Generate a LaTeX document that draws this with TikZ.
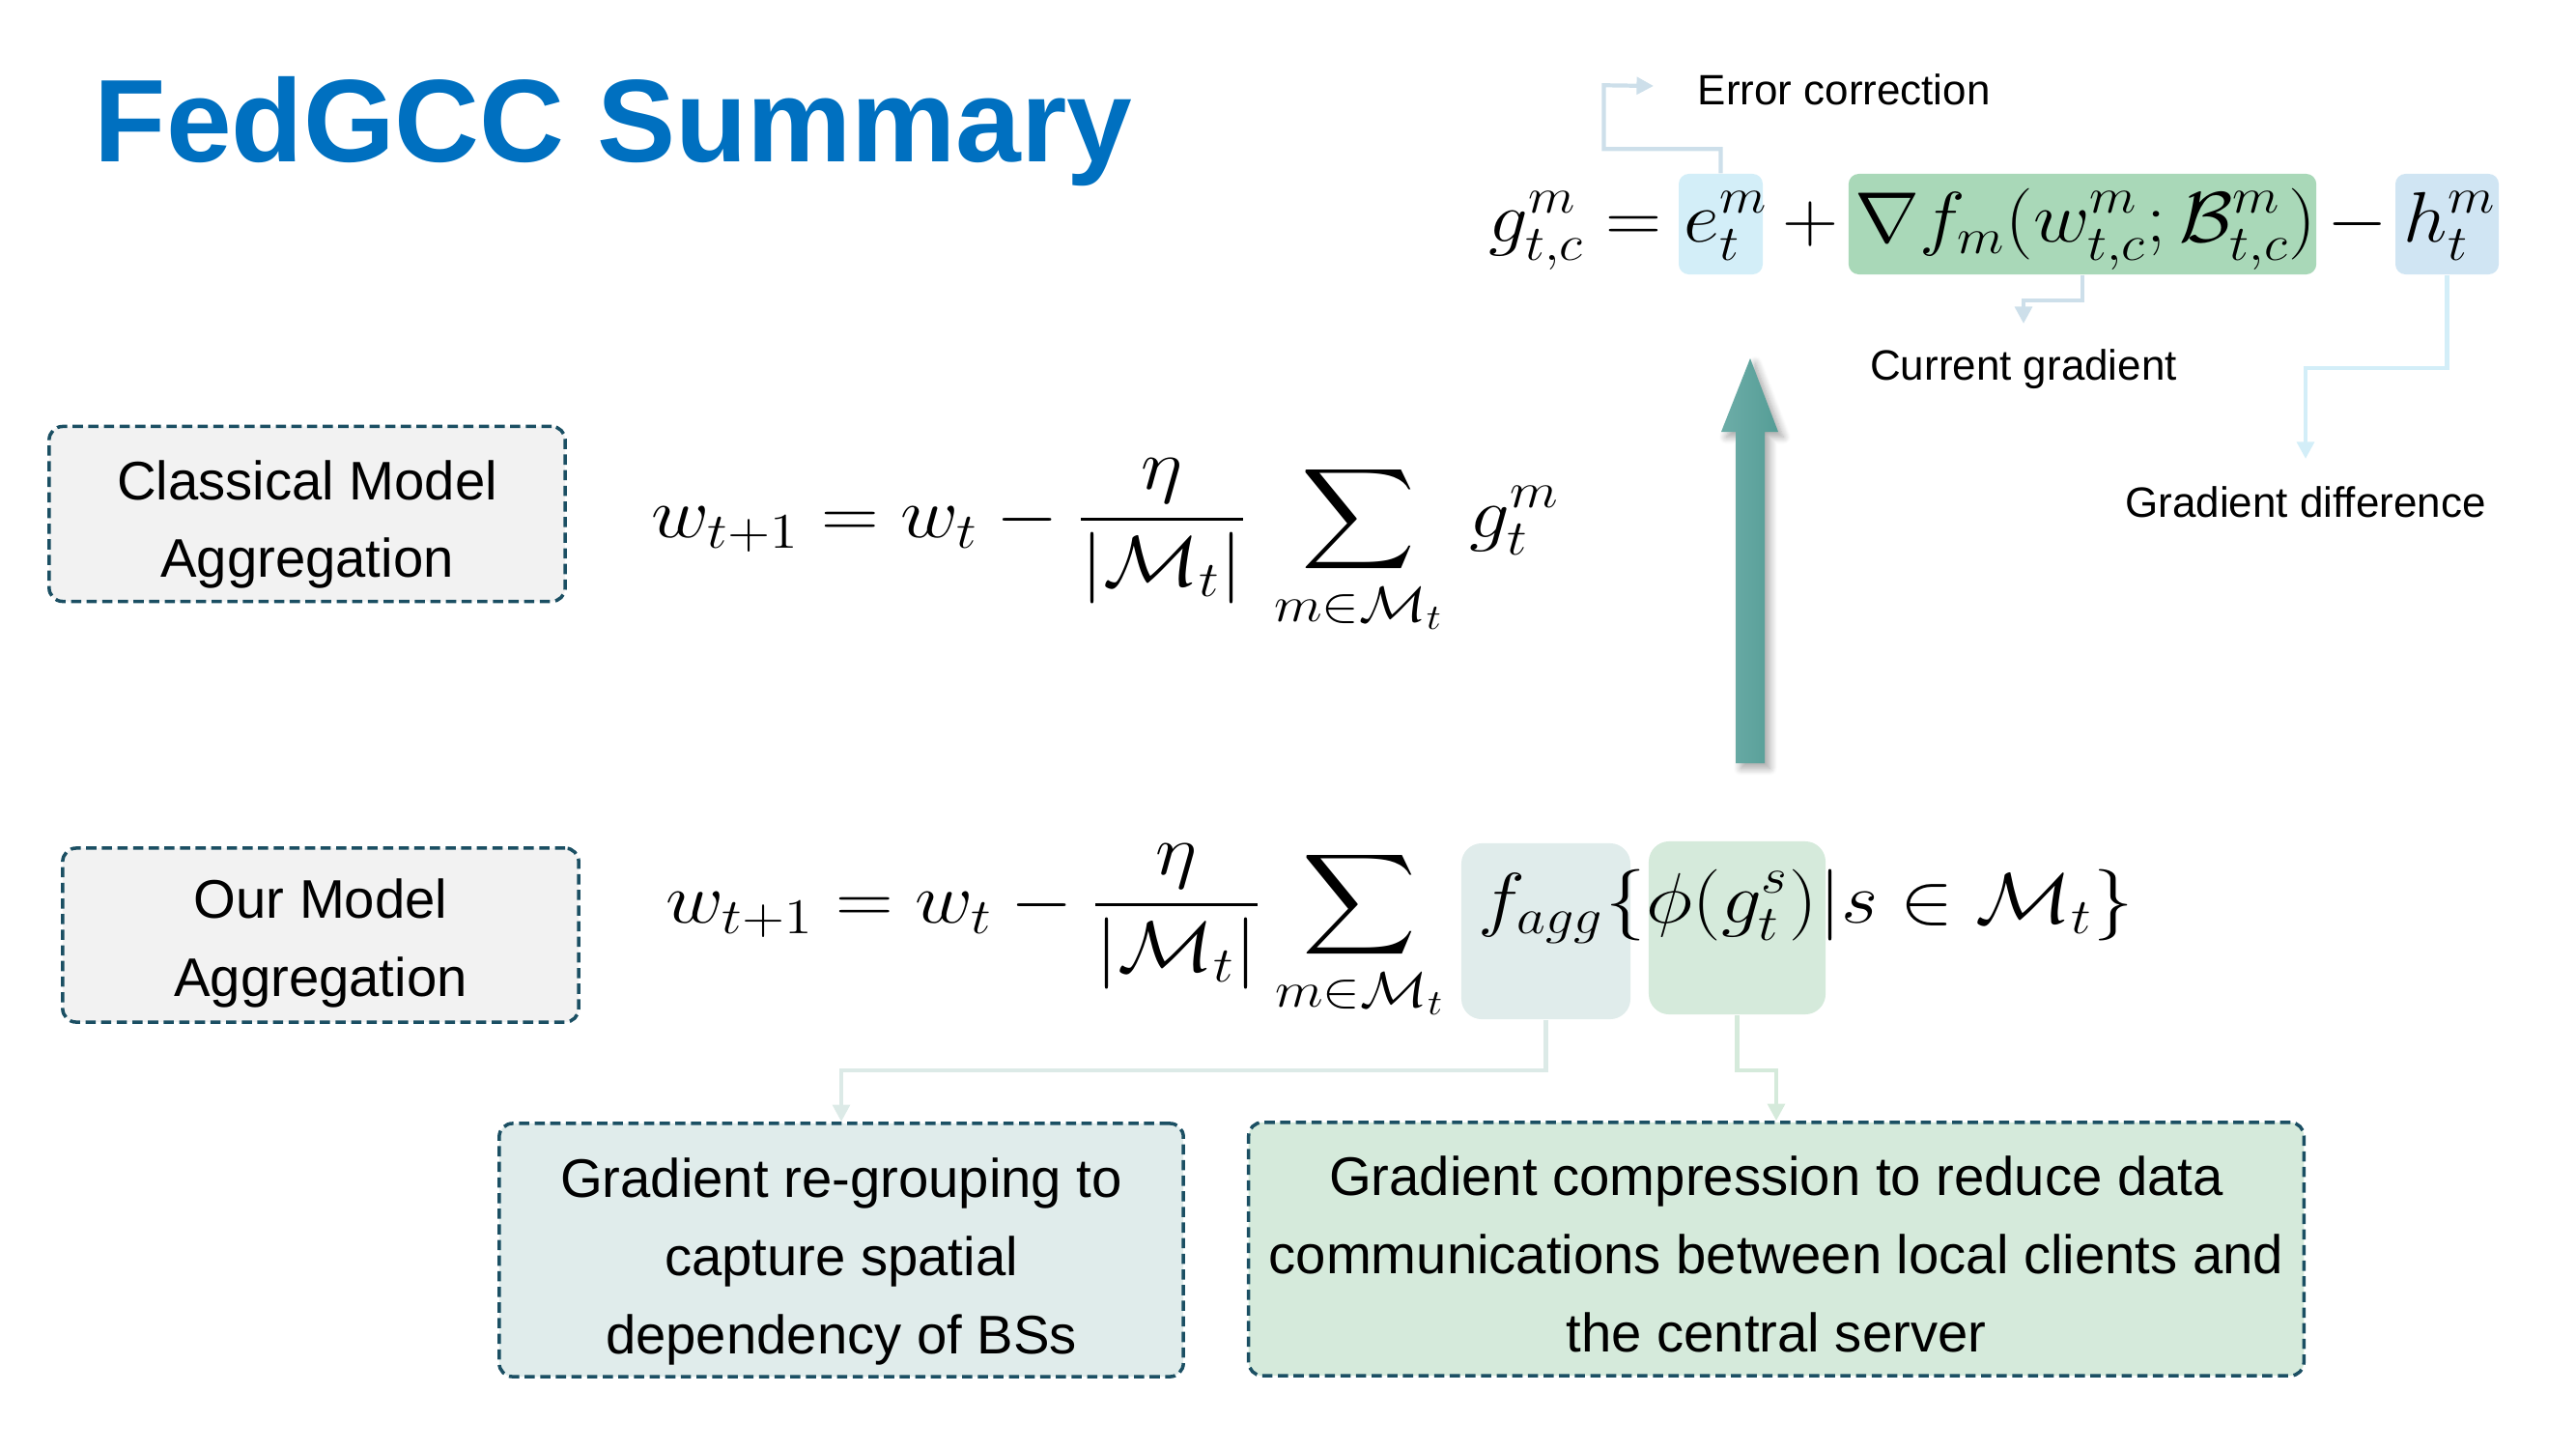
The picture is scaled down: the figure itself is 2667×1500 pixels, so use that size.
\RequirePackage{fix-cm}
\documentclass[tikz,border=0pt]{standalone}
\usepackage{exscale}
\usepackage[no-math]{fontspec}
\setmainfont{Liberation Sans}
\usetikzlibrary{arrows.meta,shadows.blur}

\definecolor{titleblue}{HTML}{0070C0}
\definecolor{boxedge}{HTML}{1B4F63}
\definecolor{boxgray}{HTML}{F2F2F2}
\definecolor{regroupfill}{HTML}{E0ECEB}
\definecolor{compressfill}{HTML}{D5EADB}
\definecolor{errfill}{HTML}{D3EEF8}
\definecolor{gradfill}{HTML}{A9D8B8}
\definecolor{difffill}{HTML}{D0E5F3}
\definecolor{errline}{HTML}{CDDFEA}
\definecolor{diffline}{HTML}{D3EEF8}
\definecolor{regroupline}{HTML}{DCEAE7}
\definecolor{compressline}{HTML}{D5EADB}
\definecolor{tealA}{HTML}{6DADA8}
\definecolor{tealB}{HTML}{559D96}

% equations are set slightly wide
\newcommand{\wideeq}[1]{\scalebox{1.12}[1]{$\displaystyle #1$}}
\newcommand{\wideeqtop}[1]{\scalebox{1.09}[1]{$\displaystyle #1$}}

\tikzset{
  outlinebox/.style={draw=boxedge, line width=1pt, dash pattern=on 3pt off 1.6pt,
    rounded corners=4pt, inner sep=0pt},
  boxtext/.style={align=center, inner sep=0pt, font=\fontsize{16}{23}\selectfont},
  hl/.style={rounded corners=3pt, draw=none, inner sep=0pt},
  link/.style={line width=1.2pt, -{Triangle[length=5pt,width=5pt]}},
  lbl/.style={font=\fontsize{12.5}{15}\selectfont, inner sep=0pt},
  eqbig/.style={inner sep=0pt, anchor=base west, font=\fontsize{21}{25}\selectfont},
}

\begin{document}
\begin{tikzpicture}[x=0.01cm, y=-0.01cm]
\useasboundingbox (0,0) rectangle (2667,1500);

% title
\node[anchor=base west, inner sep=0pt, text=titleblue,
      font=\fontsize{34.6}{40}\selectfont\bfseries] (title) at (97,168) {FedGCC Summary};

% left labels
\node[outlinebox, fill=boxgray, minimum width=5.34cm, minimum height=1.81cm] (classical) at (318,532) {};
\node[boxtext] (classicalTxt) at ([yshift=-0.11cm]classical.center) {Classical Model\\Aggregation};
\node[outlinebox, fill=boxgray, minimum width=5.34cm, minimum height=1.80cm] (ours) at (332,968) {};
\node[boxtext] (oursTxt) at ([yshift=-0.08cm]ours.center) {Our Model\\Aggregation};

% classical aggregation rule
\node[eqbig] (c1) at (674,556)
  {\wideeq{w_{t+1} = w_t - \frac{\eta}{|\mathcal{M}_t|}\mkern3mu\sum_{m\in\mathcal{M}_t}\mkern3mu g_t^{m}}};

% highlight boxes of the proposed rule
\node[hl, fill=regroupfill, rounded corners=6pt, minimum width=1.75cm, minimum height=1.82cm] (faggbox) at (1600.5,964) {};
\node[hl, fill=compressfill, rounded corners=6pt, minimum width=1.83cm, minimum height=1.79cm] (phibox) at (1798.5,960.5) {};

% proposed aggregation rule
\node[eqbig] (b1) at (689,955)
  {\wideeq{w_{t+1} = w_t - \frac{\eta}{|\mathcal{M}_t|}\sum_{m\in\mathcal{M}_t}}};
\node[eqbig] (b2) at (1530,955) {\wideeq{f_{agg}}};
\node[eqbig] (b3) at (b2.base east) {\wideeq{\{}};
\node[eqbig] (b4) at (b3.base east) {\wideeq{\phi(g_t^{s})}};
\node[eqbig] (b5) at (b4.base east) {\wideeq{|s\in\mathcal{M}_t\}}};

% highlight boxes of the local gradient
\node[hl, fill=errfill, minimum width=0.87cm, minimum height=1.04cm] (ebox) at (1781.5,232) {};
\node[hl, fill=gradfill, minimum width=4.84cm, minimum height=1.04cm] (gbox) at (2156,232) {};
\node[hl, fill=difffill, minimum width=1.07cm, minimum height=1.04cm] (hbox) at (2533.5,232) {};

% local gradient with error feedback
\node[eqbig] (t1) at (1541,251) {\wideeqtop{g_{t,c}^{m} =}};
\node[eqbig] (t2) at (1743,251) {\wideeqtop{e_t^{m}}};
\node[eqbig, anchor=base] (t3) at (1874,251) {\wideeqtop{+}};
\node[eqbig] (t4) at (1920,251) {\wideeqtop{\nabla f_m(w_{t,c}^{m};\mathcal{B}_{t,c}^{m})}};
\node[eqbig, anchor=base] (t5) at (2441,251) {\wideeqtop{-}};
\node[eqbig] (t6) at (2488,251) {\wideeqtop{h_t^{m}}};

% annotations of the local gradient
\node[lbl, anchor=west] (errlbl) at (1757,93) {Error correction};
\node[lbl] (curlbl) at (2095,382) {Current gradient};
\node[lbl] (difflbl) at (2387,520) {Gradient difference};
\coordinate (errEnd) at (1712,89);
\coordinate (curEnd) at (2095,335);
\coordinate (diffEnd) at (2387,475);

\draw[link, draw=errline] (ebox.north) -- ++(0,-25) -| ++(-121,-66) -- (errEnd);
\draw[link, draw=errline] (gbox.south) -- ++(0,26) -| (curEnd);
\draw[link, draw=diffline] (hbox.south) -- ++(0,96) -| (diffEnd);

% explanation boxes
\node[outlinebox, fill=regroupfill, minimum width=7.08cm, minimum height=2.62cm] (regroup) at (871,1294) {};
\node[boxtext] (regroupTxt) at ([yshift=-0.12cm]regroup.center) {Gradient re-grouping to\\capture spatial\\dependency of BSs};
\node[outlinebox, fill=compressfill, minimum width=10.92cm, minimum height=2.62cm] (compress) at (1839,1293) {};
\node[boxtext] (compressTxt) at ([yshift=-0.05cm]compress.center) {Gradient compression to reduce data\\communications between local clients and\\the central server};

\draw[link, draw=regroupline] (faggbox.south) -- ++(0,52) -| (regroup.north);
\draw[link, draw=compressline] (phibox.south) -- ++(0,57) -| (compress.north);

% upward arrow from the aggregation rule to the local gradient
\path[blur shadow={shadow xshift=1.5pt, shadow yshift=-1.5pt, shadow blur steps=8, shadow opacity=35},
      left color=tealA, right color=tealB]
  (1797,790) -- (1797,447) -- (1782,447) -- (1812,371) -- (1841,447)
  -- (1827,447) -- (1827,790) -- cycle;
\end{tikzpicture}
\end{document}
